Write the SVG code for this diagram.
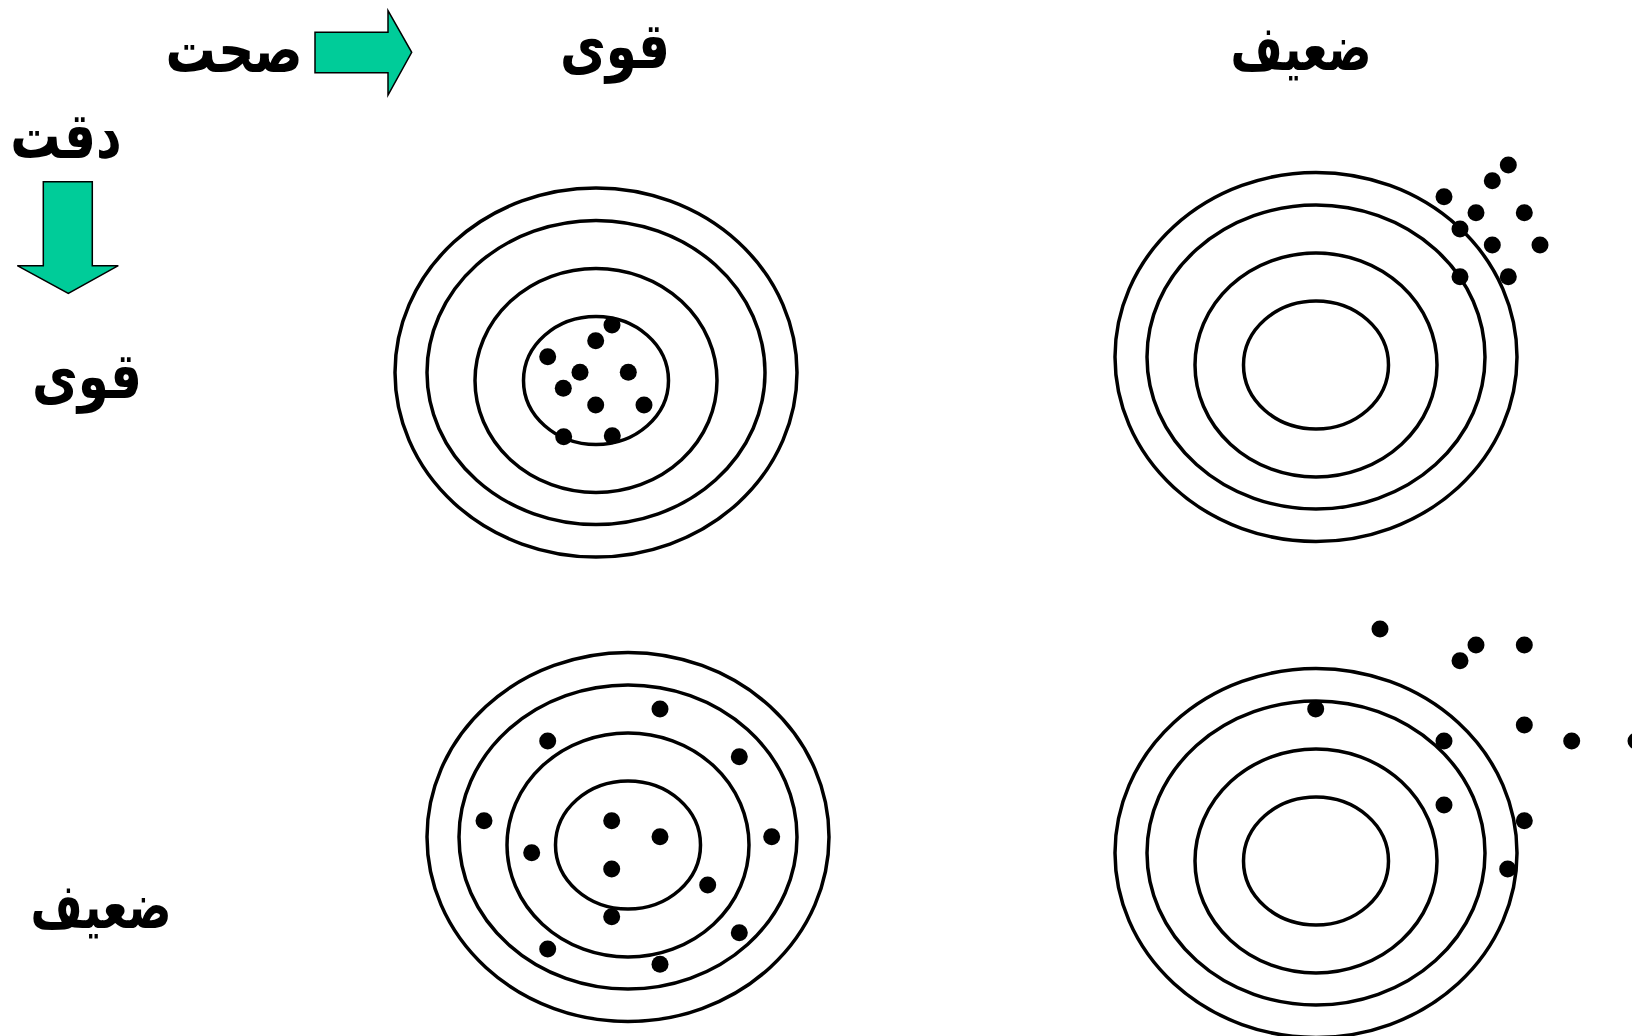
<svg xmlns="http://www.w3.org/2000/svg" width="1632" height="1036" viewBox="0 0 1632 1036">
<style>
  .ring { fill: none; stroke: #000; stroke-width: 3.5; }
  .dot { fill: #000; }
  .arrow { fill: #00CC99; stroke: #000; stroke-width: 1.5; stroke-linejoin: miter; }
  .lbl { font-family: "DejaVu Sans", "Noto Sans", sans-serif; font-weight: bold; font-size: 50px; fill: #000; text-anchor: middle; direction: rtl; }
  .lbl.w { font-size: 45px; }
</style>
<defs>
  <g id="target">
    <ellipse class="ring" cx="0" cy="0" rx="201" ry="184.5"/>
    <ellipse class="ring" cx="0" cy="0" rx="169" ry="152"/>
    <ellipse class="ring" cx="0" cy="8" rx="121" ry="112"/>
    <ellipse class="ring" cx="0" cy="8" rx="72.5" ry="64"/>
  </g>
</defs>
<rect width="1632" height="1036" fill="#fff"/>

<g id="label-accuracy">
  <text class="lbl" transform="translate(234,72) scale(1,1.28)">صحت</text>
</g>
<g id="arrow-right">
  <polygon class="arrow" points="315,32.3 388,32.3 388,10.7 411.7,52.3 388,95 388,72.7 315,72.7"/>
</g>
<g id="label-precision">
  <text class="lbl" transform="translate(66,158) scale(1,1.28)">دقت</text>
</g>
<g id="arrow-down">
  <polygon class="arrow" points="43.3,181.7 92.3,181.7 92.3,265.7 118.3,265.7 68.3,293.3 17.3,265.7 43.3,265.7"/>
</g>
<g id="col-strong">
  <text class="lbl" transform="translate(615,68) scale(1,1.28)">قوی</text>
</g>
<g id="col-weak">
  <text class="lbl w" transform="translate(1301,70) scale(1,1.4)">ضعیف</text>
</g>
<g id="row-strong">
  <text class="lbl" transform="translate(87,398) scale(1,1.28)">قوی</text>
</g>
<g id="row-weak">
  <text class="lbl w" transform="translate(101,928) scale(1,1.4)">ضعیف</text>
</g>

<g id="target-top-left">
  <use href="#target" x="596" y="372.5"/>
  <circle class="dot" cx="612" cy="325" r="8.5"/>
  <circle class="dot" cx="595.7" cy="340.7" r="8.5"/>
  <circle class="dot" cx="547.7" cy="356.7" r="8.5"/>
  <circle class="dot" cx="580" cy="372.3" r="8.5"/>
  <circle class="dot" cx="628.3" cy="372.3" r="8.5"/>
  <circle class="dot" cx="563.3" cy="388.3" r="8.5"/>
  <circle class="dot" cx="595.7" cy="405" r="8.5"/>
  <circle class="dot" cx="644" cy="405" r="8.5"/>
  <circle class="dot" cx="563.7" cy="436.7" r="8.5"/>
  <circle class="dot" cx="612.3" cy="435.7" r="8.5"/>
</g>

<g id="target-top-right">
  <use href="#target" x="1316" y="357"/>
  <circle class="dot" cx="1508.3" cy="165" r="8.5"/>
  <circle class="dot" cx="1492.3" cy="180.7" r="8.5"/>
  <circle class="dot" cx="1444" cy="196.7" r="8.5"/>
  <circle class="dot" cx="1476" cy="212.7" r="8.5"/>
  <circle class="dot" cx="1524.3" cy="212.7" r="8.5"/>
  <circle class="dot" cx="1460" cy="229" r="8.5"/>
  <circle class="dot" cx="1492.3" cy="245" r="8.5"/>
  <circle class="dot" cx="1540" cy="245" r="8.5"/>
  <circle class="dot" cx="1460" cy="276.7" r="8.5"/>
  <circle class="dot" cx="1508.3" cy="276.7" r="8.5"/>
</g>

<g id="target-bottom-left">
  <use href="#target" x="628" y="837"/>
  <circle class="dot" cx="660" cy="709" r="8.5"/>
  <circle class="dot" cx="547.7" cy="741" r="8.5"/>
  <circle class="dot" cx="739.3" cy="756.7" r="8.5"/>
  <circle class="dot" cx="484" cy="820.7" r="8.5"/>
  <circle class="dot" cx="611.7" cy="820.7" r="8.5"/>
  <circle class="dot" cx="660" cy="836.7" r="8.5"/>
  <circle class="dot" cx="771.7" cy="836.7" r="8.5"/>
  <circle class="dot" cx="531.7" cy="852.7" r="8.5"/>
  <circle class="dot" cx="611.7" cy="869" r="8.5"/>
  <circle class="dot" cx="707.7" cy="885" r="8.5"/>
  <circle class="dot" cx="611.7" cy="916.7" r="8.5"/>
  <circle class="dot" cx="739.3" cy="932.7" r="8.5"/>
  <circle class="dot" cx="547.7" cy="949" r="8.5"/>
  <circle class="dot" cx="660" cy="964.3" r="8.5"/>
</g>

<g id="target-bottom-right">
  <use href="#target" x="1316" y="853"/>
  <circle class="dot" cx="1380" cy="629" r="8.5"/>
  <circle class="dot" cx="1476" cy="645" r="8.5"/>
  <circle class="dot" cx="1524.3" cy="645" r="8.5"/>
  <circle class="dot" cx="1460" cy="660.7" r="8.5"/>
  <circle class="dot" cx="1315.7" cy="709" r="8.5"/>
  <circle class="dot" cx="1524.3" cy="725" r="8.5"/>
  <circle class="dot" cx="1444" cy="741" r="8.5"/>
  <circle class="dot" cx="1571.7" cy="741" r="8.5"/>
  <circle class="dot" cx="1636" cy="741" r="8.5"/>
  <circle class="dot" cx="1444" cy="805" r="8.5"/>
  <circle class="dot" cx="1524.3" cy="820.7" r="8.5"/>
  <circle class="dot" cx="1507.7" cy="869" r="8.5"/>
</g>
</svg>
